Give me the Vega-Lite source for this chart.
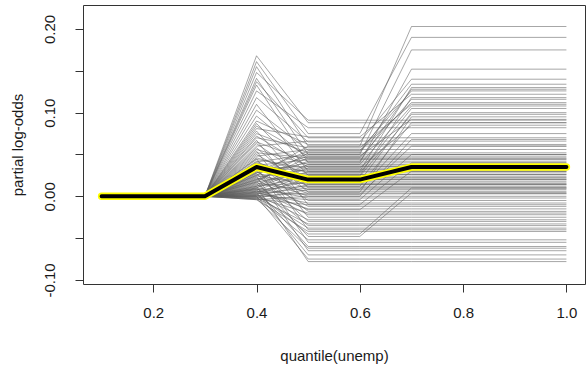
{
"$schema": "https://vega.github.io/schema/vega-lite/v6.json",
"width": 502, "height": 279,
"autosize": {"type": "none"},
"padding": {"left": 83, "top": 5, "right": 3, "bottom": 85},
"background": "white",
"config": {
  "view": {"stroke": "#333", "strokeWidth": 1},
  "font": "Liberation Sans",
  "axis": {"grid": false, "domain": false, "tickColor": "#333", "tickSize": 8, "labelFont": "Liberation Sans", "labelFontSize": 15, "labelColor": "#1a1a1a", "titleFont": "Liberation Sans", "titleFontSize": 15, "titleFontWeight": "normal", "titleColor": "#1a1a1a"}
},
"datasets": {
"mean": [
{"q":0.1,"v":0},{"q":0.2,"v":0},{"q":0.3,"v":0},{"q":0.4,"v":0.035},{"q":0.5,"v":0.02},{"q":0.6,"v":0.02},{"q":0.7,"v":0.035},{"q":0.8,"v":0.035},{"q":0.9,"v":0.035},{"q":1,"v":0.035}
],
"boot": [
{"b":1,"q":0.1,"v":0},{"b":1,"q":0.3,"v":0},{"b":1,"q":0.4,"v":0.168},{"b":1,"q":0.5,"v":0.088},{"b":1,"q":0.6,"v":0.088},{"b":1,"q":0.7,"v":0.088},{"b":1,"q":1,"v":0.088},
{"b":2,"q":0.1,"v":0},{"b":2,"q":0.3,"v":0},{"b":2,"q":0.4,"v":0.161},{"b":2,"q":0.5,"v":0.075},{"b":2,"q":0.6,"v":0.075},{"b":2,"q":0.7,"v":0.19},{"b":2,"q":1,"v":0.19},
{"b":3,"q":0.1,"v":0},{"b":3,"q":0.3,"v":0},{"b":3,"q":0.4,"v":0.155},{"b":3,"q":0.5,"v":0.06},{"b":3,"q":0.6,"v":0.06},{"b":3,"q":0.7,"v":0.203},{"b":3,"q":1,"v":0.203},
{"b":4,"q":0.1,"v":0},{"b":4,"q":0.3,"v":0},{"b":4,"q":0.4,"v":0.148},{"b":4,"q":0.5,"v":0.091},{"b":4,"q":0.6,"v":0.091},{"b":4,"q":0.7,"v":0.091},{"b":4,"q":1,"v":0.091},
{"b":5,"q":0.1,"v":0},{"b":5,"q":0.3,"v":0},{"b":5,"q":0.4,"v":0.141},{"b":5,"q":0.5,"v":0.05},{"b":5,"q":0.6,"v":0.05},{"b":5,"q":0.7,"v":0.175},{"b":5,"q":1,"v":0.175},
{"b":6,"q":0.1,"v":0},{"b":6,"q":0.3,"v":0},{"b":6,"q":0.4,"v":0.137},{"b":6,"q":0.5,"v":0.07},{"b":6,"q":0.6,"v":0.07},{"b":6,"q":0.7,"v":0.07},{"b":6,"q":1,"v":0.07},
{"b":7,"q":0.1,"v":0},{"b":7,"q":0.3,"v":0},{"b":7,"q":0.4,"v":0.133},{"b":7,"q":0.5,"v":0.04},{"b":7,"q":0.6,"v":0.04},{"b":7,"q":0.7,"v":0.152},{"b":7,"q":1,"v":0.152},
{"b":8,"q":0.1,"v":0},{"b":8,"q":0.3,"v":0},{"b":8,"q":0.4,"v":0.126},{"b":8,"q":0.5,"v":0.082},{"b":8,"q":0.6,"v":0.082},{"b":8,"q":0.7,"v":0.082},{"b":8,"q":1,"v":0.082},
{"b":9,"q":0.1,"v":0},{"b":9,"q":0.3,"v":0},{"b":9,"q":0.4,"v":0.118},{"b":9,"q":0.5,"v":0.065},{"b":9,"q":0.6,"v":0.065},{"b":9,"q":0.7,"v":0.14},{"b":9,"q":1,"v":0.14},
{"b":10,"q":0.1,"v":0},{"b":10,"q":0.3,"v":0},{"b":10,"q":0.4,"v":0.11},{"b":10,"q":0.5,"v":0.03},{"b":10,"q":0.6,"v":0.03},{"b":10,"q":0.7,"v":0.13},{"b":10,"q":1,"v":0.13},
{"b":11,"q":0.1,"v":0},{"b":11,"q":0.3,"v":0},{"b":11,"q":0.4,"v":0.103},{"b":11,"q":0.5,"v":0.055},{"b":11,"q":0.6,"v":0.055},{"b":11,"q":0.7,"v":0.126},{"b":11,"q":1,"v":0.126},
{"b":12,"q":0.1,"v":0},{"b":12,"q":0.3,"v":0},{"b":12,"q":0.4,"v":0.096},{"b":12,"q":0.5,"v":0.045},{"b":12,"q":0.6,"v":0.045},{"b":12,"q":0.7,"v":0.045},{"b":12,"q":1,"v":0.045},
{"b":13,"q":0.1,"v":0},{"b":13,"q":0.3,"v":0},{"b":13,"q":0.4,"v":0.09},{"b":13,"q":0.5,"v":0.062},{"b":13,"q":0.6,"v":0.062},{"b":13,"q":0.7,"v":0.062},{"b":13,"q":1,"v":0.062},
{"b":14,"q":0.1,"v":0},{"b":14,"q":0.3,"v":0},{"b":14,"q":0.4,"v":0.087},{"b":14,"q":0.5,"v":0.025},{"b":14,"q":0.6,"v":0.025},{"b":14,"q":0.7,"v":0.118},{"b":14,"q":1,"v":0.118},
{"b":15,"q":0.1,"v":0},{"b":15,"q":0.3,"v":0},{"b":15,"q":0.4,"v":0.084},{"b":15,"q":0.5,"v":0.048},{"b":15,"q":0.6,"v":0.048},{"b":15,"q":0.7,"v":0.048},{"b":15,"q":1,"v":0.048},
{"b":16,"q":0.1,"v":0},{"b":16,"q":0.3,"v":0},{"b":16,"q":0.4,"v":0.081},{"b":16,"q":0.5,"v":0.071},{"b":16,"q":0.6,"v":0.071},{"b":16,"q":0.7,"v":0.122},{"b":16,"q":1,"v":0.122},
{"b":17,"q":0.1,"v":0},{"b":17,"q":0.3,"v":0},{"b":17,"q":0.4,"v":0.078},{"b":17,"q":0.5,"v":0.01},{"b":17,"q":0.6,"v":0.01},{"b":17,"q":0.7,"v":0.01},{"b":17,"q":1,"v":0.01},
{"b":18,"q":0.1,"v":0},{"b":18,"q":0.3,"v":0},{"b":18,"q":0.4,"v":0.075},{"b":18,"q":0.5,"v":0.052},{"b":18,"q":0.6,"v":0.052},{"b":18,"q":0.7,"v":0.134},{"b":18,"q":1,"v":0.134},
{"b":19,"q":0.1,"v":0},{"b":19,"q":0.3,"v":0},{"b":19,"q":0.4,"v":0.072},{"b":19,"q":0.5,"v":0.035},{"b":19,"q":0.6,"v":0.035},{"b":19,"q":0.7,"v":0.035},{"b":19,"q":1,"v":0.035},
{"b":20,"q":0.1,"v":0},{"b":20,"q":0.3,"v":0},{"b":20,"q":0.4,"v":0.07},{"b":20,"q":0.5,"v":0.058},{"b":20,"q":0.6,"v":0.058},{"b":20,"q":0.7,"v":0.11},{"b":20,"q":1,"v":0.11},
{"b":21,"q":0.1,"v":0},{"b":21,"q":0.3,"v":0},{"b":21,"q":0.4,"v":0.067},{"b":21,"q":0.5,"v":-0.01},{"b":21,"q":0.6,"v":-0.01},{"b":21,"q":0.7,"v":-0.01},{"b":21,"q":1,"v":-0.01},
{"b":22,"q":0.1,"v":0},{"b":22,"q":0.3,"v":0},{"b":22,"q":0.4,"v":0.065},{"b":22,"q":0.5,"v":0.042},{"b":22,"q":0.6,"v":0.042},{"b":22,"q":0.7,"v":0.128},{"b":22,"q":1,"v":0.128},
{"b":23,"q":0.1,"v":0},{"b":23,"q":0.3,"v":0},{"b":23,"q":0.4,"v":0.063},{"b":23,"q":0.5,"v":0.02},{"b":23,"q":0.6,"v":0.02},{"b":23,"q":0.7,"v":0.02},{"b":23,"q":1,"v":0.02},
{"b":24,"q":0.1,"v":0},{"b":24,"q":0.3,"v":0},{"b":24,"q":0.4,"v":0.06},{"b":24,"q":0.5,"v":0.066},{"b":24,"q":0.6,"v":0.066},{"b":24,"q":0.7,"v":0.066},{"b":24,"q":1,"v":0.066},
{"b":25,"q":0.1,"v":0},{"b":25,"q":0.3,"v":0},{"b":25,"q":0.4,"v":0.058},{"b":25,"q":0.5,"v":0.005},{"b":25,"q":0.6,"v":0.005},{"b":25,"q":0.7,"v":0.095},{"b":25,"q":1,"v":0.095},
{"b":26,"q":0.1,"v":0},{"b":26,"q":0.3,"v":0},{"b":26,"q":0.4,"v":0.056},{"b":26,"q":0.5,"v":0.038},{"b":26,"q":0.6,"v":0.038},{"b":26,"q":0.7,"v":0.038},{"b":26,"q":1,"v":0.038},
{"b":27,"q":0.1,"v":0},{"b":27,"q":0.3,"v":0},{"b":27,"q":0.4,"v":0.054},{"b":27,"q":0.5,"v":-0.025},{"b":27,"q":0.6,"v":-0.025},{"b":27,"q":0.7,"v":-0.025},{"b":27,"q":1,"v":-0.025},
{"b":28,"q":0.1,"v":0},{"b":28,"q":0.3,"v":0},{"b":28,"q":0.4,"v":0.052},{"b":28,"q":0.5,"v":0.046},{"b":28,"q":0.6,"v":0.046},{"b":28,"q":0.7,"v":0.116},{"b":28,"q":1,"v":0.116},
{"b":29,"q":0.1,"v":0},{"b":29,"q":0.3,"v":0},{"b":29,"q":0.4,"v":0.05},{"b":29,"q":0.5,"v":0.015},{"b":29,"q":0.6,"v":0.015},{"b":29,"q":0.7,"v":0.015},{"b":29,"q":1,"v":0.015},
{"b":30,"q":0.1,"v":0},{"b":30,"q":0.3,"v":0},{"b":30,"q":0.4,"v":0.048},{"b":30,"q":0.5,"v":0.056},{"b":30,"q":0.6,"v":0.056},{"b":30,"q":0.7,"v":0.056},{"b":30,"q":1,"v":0.056},
{"b":31,"q":0.1,"v":0},{"b":31,"q":0.3,"v":0},{"b":31,"q":0.4,"v":0.046},{"b":31,"q":0.5,"v":0.028},{"b":31,"q":0.6,"v":0.028},{"b":31,"q":0.7,"v":0.105},{"b":31,"q":1,"v":0.105},
{"b":32,"q":0.1,"v":0},{"b":32,"q":0.3,"v":0},{"b":32,"q":0.4,"v":0.045},{"b":32,"q":0.5,"v":-0.04},{"b":32,"q":0.6,"v":-0.04},{"b":32,"q":0.7,"v":-0.04},{"b":32,"q":1,"v":-0.04},
{"b":33,"q":0.1,"v":0},{"b":33,"q":0.3,"v":0},{"b":33,"q":0.4,"v":0.044},{"b":33,"q":0.5,"v":0.033},{"b":33,"q":0.6,"v":0.033},{"b":33,"q":0.7,"v":0.033},{"b":33,"q":1,"v":0.033},
{"b":34,"q":0.1,"v":0},{"b":34,"q":0.3,"v":0},{"b":34,"q":0.4,"v":0.042},{"b":34,"q":0.5,"v":0.012},{"b":34,"q":0.6,"v":0.012},{"b":34,"q":0.7,"v":0.088},{"b":34,"q":1,"v":0.088},
{"b":35,"q":0.1,"v":0},{"b":35,"q":0.3,"v":0},{"b":35,"q":0.4,"v":0.041},{"b":35,"q":0.5,"v":0.05},{"b":35,"q":0.6,"v":0.05},{"b":35,"q":0.7,"v":0.05},{"b":35,"q":1,"v":0.05},
{"b":36,"q":0.1,"v":0},{"b":36,"q":0.3,"v":0},{"b":36,"q":0.4,"v":0.04},{"b":36,"q":0.5,"v":0.022},{"b":36,"q":0.6,"v":0.022},{"b":36,"q":0.7,"v":0.022},{"b":36,"q":1,"v":0.022},
{"b":37,"q":0.1,"v":0},{"b":37,"q":0.3,"v":0},{"b":37,"q":0.4,"v":0.039},{"b":37,"q":0.5,"v":0.018},{"b":37,"q":0.6,"v":0.018},{"b":37,"q":0.7,"v":0.1},{"b":37,"q":1,"v":0.1},
{"b":38,"q":0.1,"v":0},{"b":38,"q":0.3,"v":0},{"b":38,"q":0.4,"v":0.038},{"b":38,"q":0.5,"v":-0.005},{"b":38,"q":0.6,"v":-0.005},{"b":38,"q":0.7,"v":-0.005},{"b":38,"q":1,"v":-0.005},
{"b":39,"q":0.1,"v":0},{"b":39,"q":0.3,"v":0},{"b":39,"q":0.4,"v":0.037},{"b":39,"q":0.5,"v":0.044},{"b":39,"q":0.6,"v":0.044},{"b":39,"q":0.7,"v":0.044},{"b":39,"q":1,"v":0.044},
{"b":40,"q":0.1,"v":0},{"b":40,"q":0.3,"v":0},{"b":40,"q":0.4,"v":0.036},{"b":40,"q":0.5,"v":0.03},{"b":40,"q":0.6,"v":0.03},{"b":40,"q":0.7,"v":0.03},{"b":40,"q":1,"v":0.03},
{"b":41,"q":0.1,"v":0},{"b":41,"q":0.3,"v":0},{"b":41,"q":0.4,"v":0.035},{"b":41,"q":0.5,"v":-0.055},{"b":41,"q":0.6,"v":-0.055},{"b":41,"q":0.7,"v":-0.055},{"b":41,"q":1,"v":-0.055},
{"b":42,"q":0.1,"v":0},{"b":42,"q":0.3,"v":0},{"b":42,"q":0.4,"v":0.034},{"b":42,"q":0.5,"v":0.008},{"b":42,"q":0.6,"v":0.008},{"b":42,"q":0.7,"v":0.075},{"b":42,"q":1,"v":0.075},
{"b":43,"q":0.1,"v":0},{"b":43,"q":0.3,"v":0},{"b":43,"q":0.4,"v":0.033},{"b":43,"q":0.5,"v":0.036},{"b":43,"q":0.6,"v":0.036},{"b":43,"q":0.7,"v":0.036},{"b":43,"q":1,"v":0.036},
{"b":44,"q":0.1,"v":0},{"b":44,"q":0.3,"v":0},{"b":44,"q":0.4,"v":0.032},{"b":44,"q":0.5,"v":0.026},{"b":44,"q":0.6,"v":0.026},{"b":44,"q":0.7,"v":0.026},{"b":44,"q":1,"v":0.026},
{"b":45,"q":0.1,"v":0},{"b":45,"q":0.3,"v":0},{"b":45,"q":0.4,"v":0.031},{"b":45,"q":0.5,"v":-0.018},{"b":45,"q":0.6,"v":-0.018},{"b":45,"q":0.7,"v":-0.018},{"b":45,"q":1,"v":-0.018},
{"b":46,"q":0.1,"v":0},{"b":46,"q":0.3,"v":0},{"b":46,"q":0.4,"v":0.03},{"b":46,"q":0.5,"v":0.054},{"b":46,"q":0.6,"v":0.054},{"b":46,"q":0.7,"v":0.112},{"b":46,"q":1,"v":0.112},
{"b":47,"q":0.1,"v":0},{"b":47,"q":0.3,"v":0},{"b":47,"q":0.4,"v":0.029},{"b":47,"q":0.5,"v":0.003},{"b":47,"q":0.6,"v":0.003},{"b":47,"q":0.7,"v":0.003},{"b":47,"q":1,"v":0.003},
{"b":48,"q":0.1,"v":0},{"b":48,"q":0.3,"v":0},{"b":48,"q":0.4,"v":0.028},{"b":48,"q":0.5,"v":0.04},{"b":48,"q":0.6,"v":0.04},{"b":48,"q":0.7,"v":0.04},{"b":48,"q":1,"v":0.04},
{"b":49,"q":0.1,"v":0},{"b":49,"q":0.3,"v":0},{"b":49,"q":0.4,"v":0.027},{"b":49,"q":0.5,"v":-0.03},{"b":49,"q":0.6,"v":-0.03},{"b":49,"q":0.7,"v":-0.03},{"b":49,"q":1,"v":-0.03},
{"b":50,"q":0.1,"v":0},{"b":50,"q":0.3,"v":0},{"b":50,"q":0.4,"v":0.026},{"b":50,"q":0.5,"v":0.024},{"b":50,"q":0.6,"v":0.024},{"b":50,"q":0.7,"v":0.098},{"b":50,"q":1,"v":0.098},
{"b":51,"q":0.1,"v":0},{"b":51,"q":0.3,"v":0},{"b":51,"q":0.4,"v":0.025},{"b":51,"q":0.5,"v":0.014},{"b":51,"q":0.6,"v":0.014},{"b":51,"q":0.7,"v":0.014},{"b":51,"q":1,"v":0.014},
{"b":52,"q":0.1,"v":0},{"b":52,"q":0.3,"v":0},{"b":52,"q":0.4,"v":0.024},{"b":52,"q":0.5,"v":-0.065},{"b":52,"q":0.6,"v":-0.065},{"b":52,"q":0.7,"v":-0.065},{"b":52,"q":1,"v":-0.065},
{"b":53,"q":0.1,"v":0},{"b":53,"q":0.3,"v":0},{"b":53,"q":0.4,"v":0.023},{"b":53,"q":0.5,"v":0.032},{"b":53,"q":0.6,"v":0.032},{"b":53,"q":0.7,"v":0.032},{"b":53,"q":1,"v":0.032},
{"b":54,"q":0.1,"v":0},{"b":54,"q":0.3,"v":0},{"b":54,"q":0.4,"v":0.022},{"b":54,"q":0.5,"v":0},{"b":54,"q":0.6,"v":0},{"b":54,"q":0.7,"v":0.068},{"b":54,"q":1,"v":0.068},
{"b":55,"q":0.1,"v":0},{"b":55,"q":0.3,"v":0},{"b":55,"q":0.4,"v":0.021},{"b":55,"q":0.5,"v":0.02},{"b":55,"q":0.6,"v":0.02},{"b":55,"q":0.7,"v":0.02},{"b":55,"q":1,"v":0.02},
{"b":56,"q":0.1,"v":0},{"b":56,"q":0.3,"v":0},{"b":56,"q":0.4,"v":0.02},{"b":56,"q":0.5,"v":-0.012},{"b":56,"q":0.6,"v":-0.012},{"b":56,"q":0.7,"v":-0.012},{"b":56,"q":1,"v":-0.012},
{"b":57,"q":0.1,"v":0},{"b":57,"q":0.3,"v":0},{"b":57,"q":0.4,"v":0.019},{"b":57,"q":0.5,"v":0.046},{"b":57,"q":0.6,"v":0.046},{"b":57,"q":0.7,"v":0.046},{"b":57,"q":1,"v":0.046},
{"b":58,"q":0.1,"v":0},{"b":58,"q":0.3,"v":0},{"b":58,"q":0.4,"v":0.018},{"b":58,"q":0.5,"v":-0.048},{"b":58,"q":0.6,"v":-0.048},{"b":58,"q":0.7,"v":0.004},{"b":58,"q":1,"v":0.004},
{"b":59,"q":0.1,"v":0},{"b":59,"q":0.3,"v":0},{"b":59,"q":0.4,"v":0.017},{"b":59,"q":0.5,"v":0.028},{"b":59,"q":0.6,"v":0.028},{"b":59,"q":0.7,"v":0.028},{"b":59,"q":1,"v":0.028},
{"b":60,"q":0.1,"v":0},{"b":60,"q":0.3,"v":0},{"b":60,"q":0.4,"v":0.016},{"b":60,"q":0.5,"v":0.006},{"b":60,"q":0.6,"v":0.006},{"b":60,"q":0.7,"v":0.006},{"b":60,"q":1,"v":0.006},
{"b":61,"q":0.1,"v":0},{"b":61,"q":0.3,"v":0},{"b":61,"q":0.4,"v":0.015},{"b":61,"q":0.5,"v":-0.035},{"b":61,"q":0.6,"v":-0.035},{"b":61,"q":0.7,"v":-0.035},{"b":61,"q":1,"v":-0.035},
{"b":62,"q":0.1,"v":0},{"b":62,"q":0.3,"v":0},{"b":62,"q":0.4,"v":0.014},{"b":62,"q":0.5,"v":0.038},{"b":62,"q":0.6,"v":0.038},{"b":62,"q":0.7,"v":0.108},{"b":62,"q":1,"v":0.108},
{"b":63,"q":0.1,"v":0},{"b":63,"q":0.3,"v":0},{"b":63,"q":0.4,"v":0.013},{"b":63,"q":0.5,"v":0.016},{"b":63,"q":0.6,"v":0.016},{"b":63,"q":0.7,"v":0.016},{"b":63,"q":1,"v":0.016},
{"b":64,"q":0.1,"v":0},{"b":64,"q":0.3,"v":0},{"b":64,"q":0.4,"v":0.012},{"b":64,"q":0.5,"v":-0.078},{"b":64,"q":0.6,"v":-0.078},{"b":64,"q":0.7,"v":-0.078},{"b":64,"q":1,"v":-0.078},
{"b":65,"q":0.1,"v":0},{"b":65,"q":0.3,"v":0},{"b":65,"q":0.4,"v":0.011},{"b":65,"q":0.5,"v":0.024},{"b":65,"q":0.6,"v":0.024},{"b":65,"q":0.7,"v":0.024},{"b":65,"q":1,"v":0.024},
{"b":66,"q":0.1,"v":0},{"b":66,"q":0.3,"v":0},{"b":66,"q":0.4,"v":0.01},{"b":66,"q":0.5,"v":-0.002},{"b":66,"q":0.6,"v":-0.002},{"b":66,"q":0.7,"v":-0.002},{"b":66,"q":1,"v":-0.002},
{"b":67,"q":0.1,"v":0},{"b":67,"q":0.3,"v":0},{"b":67,"q":0.4,"v":0.01},{"b":67,"q":0.5,"v":0.034},{"b":67,"q":0.6,"v":0.034},{"b":67,"q":0.7,"v":0.085},{"b":67,"q":1,"v":0.085},
{"b":68,"q":0.1,"v":0},{"b":68,"q":0.3,"v":0},{"b":68,"q":0.4,"v":0.009},{"b":68,"q":0.5,"v":-0.022},{"b":68,"q":0.6,"v":-0.022},{"b":68,"q":0.7,"v":-0.022},{"b":68,"q":1,"v":-0.022},
{"b":69,"q":0.1,"v":0},{"b":69,"q":0.3,"v":0},{"b":69,"q":0.4,"v":0.008},{"b":69,"q":0.5,"v":0.012},{"b":69,"q":0.6,"v":0.012},{"b":69,"q":0.7,"v":0.012},{"b":69,"q":1,"v":0.012},
{"b":70,"q":0.1,"v":0},{"b":70,"q":0.3,"v":0},{"b":70,"q":0.4,"v":0.008},{"b":70,"q":0.5,"v":-0.06},{"b":70,"q":0.6,"v":-0.06},{"b":70,"q":0.7,"v":-0.06},{"b":70,"q":1,"v":-0.06},
{"b":71,"q":0.1,"v":0},{"b":71,"q":0.3,"v":0},{"b":71,"q":0.4,"v":0.007},{"b":71,"q":0.5,"v":0.03},{"b":71,"q":0.6,"v":0.03},{"b":71,"q":0.7,"v":0.03},{"b":71,"q":1,"v":0.03},
{"b":72,"q":0.1,"v":0},{"b":72,"q":0.3,"v":0},{"b":72,"q":0.4,"v":0.006},{"b":72,"q":0.5,"v":0.002},{"b":72,"q":0.6,"v":0.002},{"b":72,"q":0.7,"v":0.06},{"b":72,"q":1,"v":0.06},
{"b":73,"q":0.1,"v":0},{"b":73,"q":0.3,"v":0},{"b":73,"q":0.4,"v":0.006},{"b":73,"q":0.5,"v":-0.015},{"b":73,"q":0.6,"v":-0.015},{"b":73,"q":0.7,"v":-0.015},{"b":73,"q":1,"v":-0.015},
{"b":74,"q":0.1,"v":0},{"b":74,"q":0.3,"v":0},{"b":74,"q":0.4,"v":0.005},{"b":74,"q":0.5,"v":0.018},{"b":74,"q":0.6,"v":0.018},{"b":74,"q":0.7,"v":0.018},{"b":74,"q":1,"v":0.018},
{"b":75,"q":0.1,"v":0},{"b":75,"q":0.3,"v":0},{"b":75,"q":0.4,"v":0.005},{"b":75,"q":0.5,"v":-0.07},{"b":75,"q":0.6,"v":-0.07},{"b":75,"q":0.7,"v":-0.07},{"b":75,"q":1,"v":-0.07},
{"b":76,"q":0.1,"v":0},{"b":76,"q":0.3,"v":0},{"b":76,"q":0.4,"v":0.004},{"b":76,"q":0.5,"v":0.026},{"b":76,"q":0.6,"v":0.026},{"b":76,"q":0.7,"v":0.026},{"b":76,"q":1,"v":0.026},
{"b":77,"q":0.1,"v":0},{"b":77,"q":0.3,"v":0},{"b":77,"q":0.4,"v":0.004},{"b":77,"q":0.5,"v":-0.008},{"b":77,"q":0.6,"v":-0.008},{"b":77,"q":0.7,"v":-0.008},{"b":77,"q":1,"v":-0.008},
{"b":78,"q":0.1,"v":0},{"b":78,"q":0.3,"v":0},{"b":78,"q":0.4,"v":0.003},{"b":78,"q":0.5,"v":-0.045},{"b":78,"q":0.6,"v":-0.045},{"b":78,"q":0.7,"v":0.01},{"b":78,"q":1,"v":0.01},
{"b":79,"q":0.1,"v":0},{"b":79,"q":0.3,"v":0},{"b":79,"q":0.4,"v":0.003},{"b":79,"q":0.5,"v":0.01},{"b":79,"q":0.6,"v":0.01},{"b":79,"q":0.7,"v":0.01},{"b":79,"q":1,"v":0.01},
{"b":80,"q":0.1,"v":0},{"b":80,"q":0.3,"v":0},{"b":80,"q":0.4,"v":0.002},{"b":80,"q":0.5,"v":-0.028},{"b":80,"q":0.6,"v":-0.028},{"b":80,"q":0.7,"v":-0.028},{"b":80,"q":1,"v":-0.028},
{"b":81,"q":0.1,"v":0},{"b":81,"q":0.3,"v":0},{"b":81,"q":0.4,"v":0.002},{"b":81,"q":0.5,"v":0.022},{"b":81,"q":0.6,"v":0.022},{"b":81,"q":0.7,"v":0.022},{"b":81,"q":1,"v":0.022},
{"b":82,"q":0.1,"v":0},{"b":82,"q":0.3,"v":0},{"b":82,"q":0.4,"v":0.001},{"b":82,"q":0.5,"v":-0.004},{"b":82,"q":0.6,"v":-0.004},{"b":82,"q":0.7,"v":0.05},{"b":82,"q":1,"v":0.05},
{"b":83,"q":0.1,"v":0},{"b":83,"q":0.3,"v":0},{"b":83,"q":0.4,"v":0.001},{"b":83,"q":0.5,"v":-0.038},{"b":83,"q":0.6,"v":-0.038},{"b":83,"q":0.7,"v":-0.038},{"b":83,"q":1,"v":-0.038},
{"b":84,"q":0.1,"v":0},{"b":84,"q":0.3,"v":0},{"b":84,"q":0.4,"v":0},{"b":84,"q":0.5,"v":0.014},{"b":84,"q":0.6,"v":0.014},{"b":84,"q":0.7,"v":0.014},{"b":84,"q":1,"v":0.014},
{"b":85,"q":0.1,"v":0},{"b":85,"q":0.3,"v":0},{"b":85,"q":0.4,"v":0},{"b":85,"q":0.5,"v":-0.075},{"b":85,"q":0.6,"v":-0.075},{"b":85,"q":0.7,"v":-0.075},{"b":85,"q":1,"v":-0.075},
{"b":86,"q":0.1,"v":0},{"b":86,"q":0.3,"v":0},{"b":86,"q":0.4,"v":0},{"b":86,"q":0.5,"v":0.004},{"b":86,"q":0.6,"v":0.004},{"b":86,"q":0.7,"v":0.004},{"b":86,"q":1,"v":0.004},
{"b":87,"q":0.1,"v":0},{"b":87,"q":0.3,"v":0},{"b":87,"q":0.4,"v":-0.001},{"b":87,"q":0.5,"v":-0.02},{"b":87,"q":0.6,"v":-0.02},{"b":87,"q":0.7,"v":-0.02},{"b":87,"q":1,"v":-0.02},
{"b":88,"q":0.1,"v":0},{"b":88,"q":0.3,"v":0},{"b":88,"q":0.4,"v":-0.001},{"b":88,"q":0.5,"v":-0.052},{"b":88,"q":0.6,"v":-0.052},{"b":88,"q":0.7,"v":-0.052},{"b":88,"q":1,"v":-0.052},
{"b":89,"q":0.1,"v":0},{"b":89,"q":0.3,"v":0},{"b":89,"q":0.4,"v":-0.002},{"b":89,"q":0.5,"v":0.008},{"b":89,"q":0.6,"v":0.008},{"b":89,"q":0.7,"v":0.008},{"b":89,"q":1,"v":0.008},
{"b":90,"q":0.1,"v":0},{"b":90,"q":0.3,"v":0},{"b":90,"q":0.4,"v":-0.002},{"b":90,"q":0.5,"v":-0.033},{"b":90,"q":0.6,"v":-0.033},{"b":90,"q":0.7,"v":-0.033},{"b":90,"q":1,"v":-0.033},
{"b":91,"q":0.1,"v":0},{"b":91,"q":0.3,"v":0},{"b":91,"q":0.4,"v":-0.003},{"b":91,"q":0.5,"v":-0.01},{"b":91,"q":0.6,"v":-0.01},{"b":91,"q":0.7,"v":0.04},{"b":91,"q":1,"v":0.04},
{"b":92,"q":0.1,"v":0},{"b":92,"q":0.3,"v":0},{"b":92,"q":0.4,"v":-0.003},{"b":92,"q":0.5,"v":-0.062},{"b":92,"q":0.6,"v":-0.062},{"b":92,"q":0.7,"v":-0.062},{"b":92,"q":1,"v":-0.062},
{"b":93,"q":0.1,"v":0},{"b":93,"q":0.3,"v":0},{"b":93,"q":0.4,"v":-0.004},{"b":93,"q":0.5,"v":0},{"b":93,"q":0.6,"v":0},{"b":93,"q":0.7,"v":0},{"b":93,"q":1,"v":0},
{"b":94,"q":0.1,"v":0},{"b":94,"q":0.3,"v":0},{"b":94,"q":0.4,"v":-0.004},{"b":94,"q":0.5,"v":-0.042},{"b":94,"q":0.6,"v":-0.042},{"b":94,"q":0.7,"v":-0.042},{"b":94,"q":1,"v":-0.042},
{"b":95,"q":0.1,"v":0},{"b":95,"q":0.3,"v":0},{"b":95,"q":0.4,"v":0.012},{"b":95,"q":0.5,"v":0.036},{"b":95,"q":0.6,"v":0.036},{"b":95,"q":0.7,"v":0.036},{"b":95,"q":1,"v":0.036},
{"b":96,"q":0.1,"v":0},{"b":96,"q":0.3,"v":0},{"b":96,"q":0.4,"v":0.02},{"b":96,"q":0.5,"v":0.042},{"b":96,"q":0.6,"v":0.042},{"b":96,"q":0.7,"v":0.042},{"b":96,"q":1,"v":0.042},
{"b":97,"q":0.1,"v":0},{"b":97,"q":0.3,"v":0},{"b":97,"q":0.4,"v":0.028},{"b":97,"q":0.5,"v":0.048},{"b":97,"q":0.6,"v":0.048},{"b":97,"q":0.7,"v":0.092},{"b":97,"q":1,"v":0.092},
{"b":98,"q":0.1,"v":0},{"b":98,"q":0.3,"v":0},{"b":98,"q":0.4,"v":0.017},{"b":98,"q":0.5,"v":0.052},{"b":98,"q":0.6,"v":0.052},{"b":98,"q":0.7,"v":0.052},{"b":98,"q":1,"v":0.052},
{"b":99,"q":0.1,"v":0},{"b":99,"q":0.3,"v":0},{"b":99,"q":0.4,"v":0.009},{"b":99,"q":0.5,"v":-0.016},{"b":99,"q":0.6,"v":-0.016},{"b":99,"q":0.7,"v":0.03},{"b":99,"q":1,"v":0.03},
{"b":100,"q":0.1,"v":0},{"b":100,"q":0.3,"v":0},{"b":100,"q":0.4,"v":0.025},{"b":100,"q":0.5,"v":0.06},{"b":100,"q":0.6,"v":0.06},{"b":100,"q":0.7,"v":0.06},{"b":100,"q":1,"v":0.06}
]
},
"encoding": {
  "x": {"field": "q", "type": "quantitative",
        "scale": {"domain": [0.064, 1.036], "nice": false, "zero": false},
        "axis": {"values": [0.2, 0.4, 0.6, 0.8, 1.0], "format": ".1f", "labelPadding": 13, "labelBaseline": "top", "title": "quantile(unemp)", "titleBaseline": "middle", "titleY": 71, "titlePadding": 0}},
  "y": {"field": "v", "type": "quantitative",
        "scale": {"domain": [-0.1048, 0.2287], "nice": false, "zero": false},
        "axis": {"values": [-0.1, -0.05, 0, 0.05, 0.1, 0.15, 0.2],
                 "labelExpr": "abs(datum.value*10 - round(datum.value*10)) < 0.001 ? replace(format(datum.value, '.2f'), '\u2212', '-') : ''",
                 "labelAngle": -90, "labelAlign": "center", "labelBaseline": "alphabetic", "labelPadding": 21,
                 "title": "partial log-odds", "titleAngle": -90, "titleAlign": "center", "titleBaseline": "middle", "titleX": -66, "titleY": 139.5}}
},
"layer": [
  {"data": {"name": "boot"}, "mark": {"type": "line", "stroke": "#5e5e5e", "strokeWidth": 1, "opacity": 0.55, "clip": true},
   "encoding": {"detail": {"field": "b", "type": "nominal"}}},
  {"data": {"name": "mean"}, "mark": {"type": "line", "stroke": "#ffff00", "strokeWidth": 7.5, "strokeCap": "round", "strokeJoin": "round"}, "encoding": {}},
  {"data": {"name": "mean"}, "mark": {"type": "line", "stroke": "#000000", "strokeWidth": 4, "strokeCap": "round", "strokeJoin": "round"}, "encoding": {}}
]
}
